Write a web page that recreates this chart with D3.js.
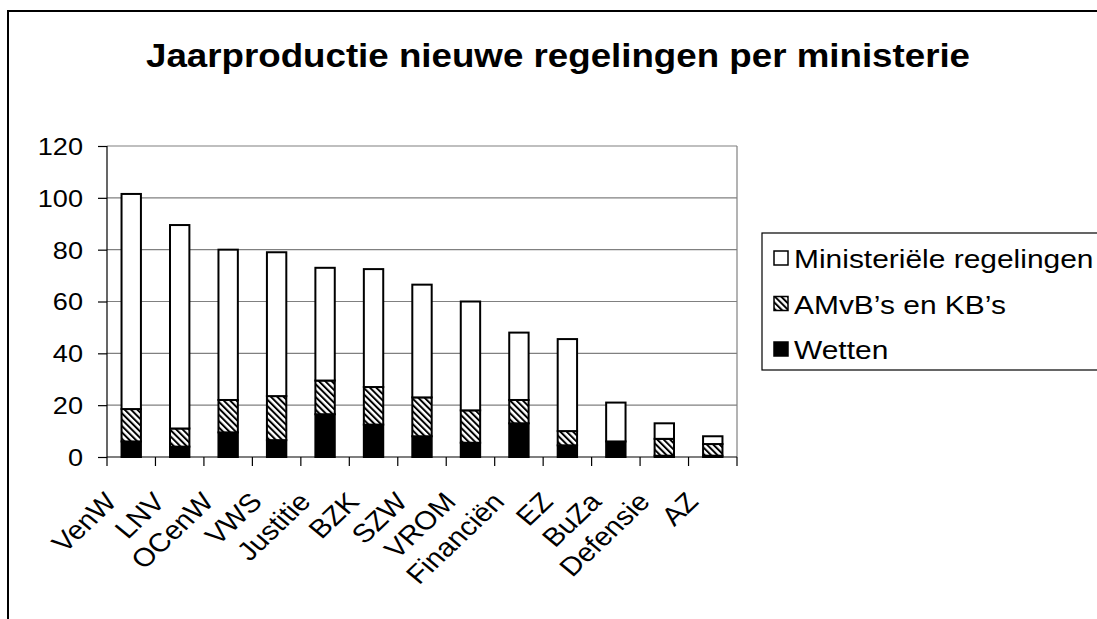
<!DOCTYPE html>
<html>
<head>
<meta charset="utf-8">
<script src="https://cdn.jsdelivr.net/npm/d3@7"></script>
<style>
  html, body { margin: 0; background: #fff; overflow: hidden; }
  svg { font-family: "Liberation Sans", Arial, sans-serif; display: block; }
</style>
</head>
<body>
<svg width="1097" height="619"></svg>
<script>
const categories = ["VenW", "LNV", "OCenW", "VWS", "Justitie", "BZK", "SZW", "VROM", "Financiën", "EZ", "BuZa", "Defensie", "AZ"];
const wetten = [6, 4, 9.5, 6.5, 16.5, 12.5, 8, 5.5, 13, 4.5, 6, 0.5, 0.5];
const amvb = [12.5, 7, 12.5, 17, 13, 14.5, 15, 12.5, 9, 5.5, 0, 6.5, 4.5];
const ministeriele = [83, 78.5, 58, 55.5, 43.5, 45.5, 43.5, 42, 26, 35.5, 15, 6, 3];
const seriesNames = ["Wetten", "AMvB’s en KB’s", "Ministeriële regelingen"];
const yTicks = [0, 20, 40, 60, 80, 100, 120];

const svg = d3.select('svg');
const SX = 1.13; // reference text is slightly stretched horizontally

const defs = svg.append('defs');
defs.append('pattern')
    .attr('id', 'hatch')
    .attr('patternUnits', 'userSpaceOnUse')
    .attr('width', 4.5).attr('height', 4.5)
    .attr('patternTransform', 'rotate(-45)')
    .call(p => {
        p.append('rect').attr('width', 4.5).attr('height', 4.5).attr('fill', '#fff');
        p.append('rect').attr('x', 0).attr('width', 2).attr('height', 4.5).attr('fill', '#000');
    });

const fills = {"Wetten": "#000", "AMvB’s en KB’s": "url(#hatch)", "Ministeriële regelingen": "#fff"};

// outer frame
svg.append('rect')
    .attr('x', 8).attr('y', 11)
    .attr('width', 1200).attr('height', 700)
    .attr('fill', 'none').attr('stroke', '#000').attr('stroke-width', 2);

// title
svg.append('text')
    .attr('transform', `translate(558,67) scale(${SX},1)`)
    .attr('text-anchor', 'middle')
    .style('font-size', '32.5px').style('font-weight', 'bold')
    .text('Jaarproductie nieuwe regelingen per ministerie');

const plot = {left: 107, right: 737, top: 146, bottom: 457};

const x = d3.scaleBand()
    .domain(categories)
    .range([plot.left, plot.right])
    .paddingInner(0.6).paddingOuter(0.3);
const xSlot = d3.scaleBand().domain(categories).range([plot.left, plot.right]);
const y = d3.scaleLinear().domain([0, 120]).range([plot.bottom, plot.top]);

// gridlines
svg.append('g').selectAll('line')
    .data(yTicks.filter(d => d > 0))
    .enter().append('line')
    .attr('x1', plot.left).attr('x2', plot.right)
    .attr('y1', d => y(d)).attr('y2', d => y(d))
    .attr('stroke', '#808080').attr('stroke-width', 1.2);
svg.append('line')
    .attr('x1', plot.right).attr('x2', plot.right)
    .attr('y1', plot.top).attr('y2', plot.bottom)
    .attr('stroke', '#808080').attr('stroke-width', 1.2);

// stacked bars
const rows = categories.map((c, i) => ({
    cat: c,
    "Wetten": wetten[i],
    "AMvB’s en KB’s": amvb[i],
    "Ministeriële regelingen": ministeriele[i]
}));
const stacked = d3.stack().keys(seriesNames)(rows);

svg.append('g').selectAll('g')
    .data(stacked)
    .enter().append('g')
    .attr('fill', d => fills[d.key])
    .selectAll('rect')
    .data(d => d)
    .enter().append('rect')
    .attr('x', d => x(d.data.cat))
    .attr('y', d => y(d[1]))
    .attr('width', x.bandwidth())
    .attr('height', d => y(d[0]) - y(d[1]))
    .attr('stroke', '#000').attr('stroke-width', 2);

// y axis
const yAxis = d3.axisLeft(y).tickValues(yTicks).tickSize(9).tickPadding(14);
const yG = svg.append('g')
    .attr('transform', `translate(${plot.left},0)`)
    .call(yAxis);
yG.select('.domain').remove();
yG.append('line')
    .attr('x1', 0).attr('x2', 0)
    .attr('y1', plot.top).attr('y2', plot.bottom + 9)
    .attr('stroke', '#000').attr('stroke-width', 1.2);
yG.selectAll('.tick line').attr('stroke', '#000').attr('stroke-width', 1.2);
yG.selectAll('.tick text')
    .attr('fill', '#000')
    .style('font-size', '24px')
    .attr('x', null).attr('dy', null)
    .attr('dominant-baseline', 'central')
    .attr('transform', `translate(-24,0) scale(${SX},1)`);

// x axis
const xG = svg.append('g')
    .attr('transform', `translate(0,${plot.bottom})`);
xG.append('line')
    .attr('x1', plot.left).attr('x2', plot.right)
    .attr('stroke', '#000').attr('stroke-width', 1.2);
xG.selectAll('.sep')
    .data(categories)
    .enter().append('line')
    .attr('x1', d => xSlot(d) + xSlot.step())
    .attr('x2', d => xSlot(d) + xSlot.step())
    .attr('y1', 0).attr('y2', 9)
    .attr('stroke', '#000').attr('stroke-width', 1.2);
xG.selectAll('.xlabel')
    .data(categories)
    .enter().append('text')
    .attr('class', 'xlabel')
    .attr('text-anchor', 'end')
    .style('font-size', '26px')
    .attr('transform', d => `translate(${xSlot(d) + xSlot.bandwidth() / 2 - 13},46) scale(${SX},1) rotate(-47)`)
    .text(d => d);

// legend
const legend = svg.append('g');
legend.append('rect')
    .attr('x', 762).attr('y', 233)
    .attr('width', 400).attr('height', 137)
    .attr('fill', '#fff').attr('stroke', '#000').attr('stroke-width', 1.2);
const legendItems = seriesNames.slice().reverse();
const li = legend.selectAll('.li')
    .data(legendItems)
    .enter().append('g')
    .attr('transform', (d, i) => `translate(774,${258 + i * 45.5})`);
li.append('rect')
    .attr('x', 0).attr('y', -7)
    .attr('width', 14).attr('height', 14)
    .attr('fill', d => fills[d])
    .attr('stroke', '#000').attr('stroke-width', 1.5);
li.append('text')
    .attr('transform', `translate(20,1) scale(${SX},1)`)
    .attr('dominant-baseline', 'central')
    .style('font-size', '26.5px')
    .text(d => d);
</script>
</body>
</html>
